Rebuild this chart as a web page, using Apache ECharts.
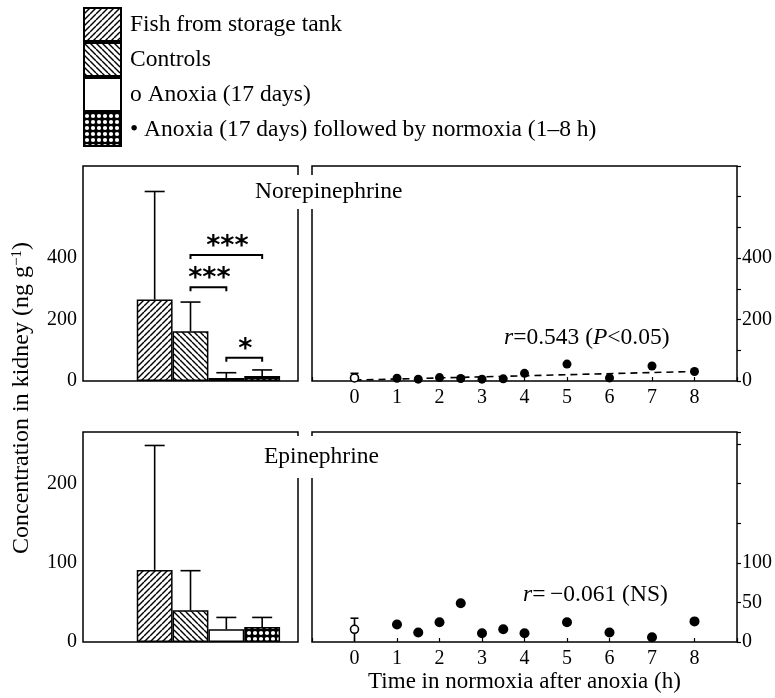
<!DOCTYPE html>
<html>
<head>
<meta charset="utf-8">
<script src="https://cdn.jsdelivr.net/npm/echarts@6/dist/echarts.min.js"></script>
<style>html,body{margin:0;padding:0;background:#fff}#c{width:775px;height:698px}</style>
</head>
<body>
<div id="c"></div>
<script>
// ---------- data ----------
const barCategories = ['Fish from storage tank', 'Controls', 'Anoxia (17 days)', 'Anoxia (17 days) followed by normoxia (1\u20138 h)'];
const legendPrefix = ['', '', 'o ', '\u2022 '];
const norBarMean = [265, 162, 10, 16];
const norBarUpper = [617, 257, 27, 36];
const epiBarMean = [91, 40, 16, 19];
const epiBarUpper = [248, 90, 31, 31];
const sigFrom = [1, 1, 2];
const sigTo = [3, 2, 3];
const sigY = [410, 305, 76];
const sigText = ['***', '***', '*'];
const timeH = [1, 1.5, 2, 2.5, 3, 3.5, 4, 5, 6, 7, 8];
const norTime = [9, 6, 11, 8, 6, 7, 25, 55, 10, 49, 31];
const epiTime = [22, 12, 25, 49, 11, 16, 11, 25, 12, 6, 26];
const norAnoxia = [0, 10, 0, 25];   // [time, mean, low, high]
const epiAnoxia = [0, 16, 1, 30];
const norFitX = [0, 8];
const norFitY = [3, 31];
const xTickLabels = ['0', '1', '2', '3', '4', '5', '6', '7', '8'];
const norYLabels = [0, 200, 400];
const epiLeftLabels = [0, 100, 200];
const epiRightLabels = [0, 50, 100];

// ---------- styles ----------
const FONT = 'Liberation Serif';
const FS = 20;      // tick labels
const TS = 23.5;    // other text
function hatch(dir) {
  const s = 6, c = document.createElement('canvas');
  c.width = s; c.height = s;
  const g = c.getContext('2d');
  g.fillStyle = '#fff'; g.fillRect(0, 0, s, s);
  g.strokeStyle = '#000'; g.lineWidth = 1.4;
  for (let k = -1; k <= 1; k++) {
    g.beginPath();
    if (dir > 0) { g.moveTo(k * s, s); g.lineTo(k * s + s, 0); }
    else { g.moveTo(k * s, 0); g.lineTo(k * s + s, s); }
    g.stroke();
  }
  return { image: c, repeat: 'repeat' };
}
function dots() {
  const s = 6, c = document.createElement('canvas');
  c.width = s; c.height = s;
  const g = c.getContext('2d');
  g.fillStyle = '#000'; g.fillRect(0, 0, s, s);
  g.fillStyle = '#fff'; g.beginPath(); g.arc(3, 3, 2.1, 0, Math.PI * 2); g.fill();
  return { image: c, repeat: 'repeat' };
}
const fills = [hatch(1), hatch(-1), '#fff', dots()];

const cats = ['', ''].concat(barCategories).concat(['']);
function barSeries(means, xi, yi, stack) {
  return means.map((v, i) => {
    const d = cats.map(() => null);
    d[i + 2] = v;
    return {
      type: 'bar', name: barCategories[i], stack: stack, xAxisIndex: xi, yAxisIndex: yi,
      data: d, barCategoryGap: '0%', silent: true,
      itemStyle: { color: fills[i], borderColor: '#000', borderWidth: 1.5, opacity: 1 }
    };
  });
}
function errRender(cap) {
  return function (params, api) {
    const x = api.value(0), lo = api.value(1), hi = api.value(2);
    const p1 = api.coord([x, lo]), p2 = api.coord([x, hi]);
    const st = { stroke: '#000', lineWidth: 1.6 };
    return { type: 'group', children: [
      { type: 'line', shape: { x1: p1[0], y1: p1[1], x2: p2[0], y2: p2[1] }, style: st },
      { type: 'line', shape: { x1: p2[0] - cap / 2, y1: p2[1], x2: p2[0] + cap / 2, y2: p2[1] }, style: st }
    ] };
  };
}
function errSeries(means, uppers, xi, yi) {
  return {
    type: 'custom', xAxisIndex: xi, yAxisIndex: yi, z: 5, silent: true,
    renderItem: errRender(20),
    data: means.map((m, i) => [i + 2, m, uppers[i]])
  };
}
function labelFilter(list) {
  return function (v) { return list.indexOf(v) >= 0 ? String(v) : ''; };
}
const axisText = { fontFamily: FONT, fontSize: FS, color: '#000' };
const tickStyle = { color: '#000', width: 1.2 };
const xTickFmt = function (v) { return xTickLabels.indexOf(String(v)) >= 0 ? String(v) : ''; };

const option = {
  animation: false,
  backgroundColor: '#fff',
  textStyle: { fontFamily: FONT, color: '#000' },
  legend: {
    orient: 'vertical', left: 78, top: 2, itemWidth: 37, itemHeight: 33, itemGap: 0,
    icon: 'rect', selectedMode: false,
    data: barCategories,
    formatter: function (n) { return legendPrefix[barCategories.indexOf(n)] + n; },
    textStyle: { fontFamily: FONT, fontSize: TS, color: '#000', padding: [0, 0, 0, 4] }
  },
  grid: [
    { left: 83, top: 166, width: 215, height: 215, show: true, borderColor: '#000', borderWidth: 1.5, backgroundColor: 'transparent' },
    { left: 312, top: 166, width: 426, height: 215, show: true, borderColor: '#000', borderWidth: 1.5, backgroundColor: 'transparent' },
    { left: 83, top: 432, width: 215, height: 210, show: true, borderColor: '#000', borderWidth: 1.5, backgroundColor: 'transparent' },
    { left: 312, top: 432, width: 426, height: 210, show: true, borderColor: '#000', borderWidth: 1.5, backgroundColor: 'transparent' }
  ],
  xAxis: [
    { gridIndex: 0, type: 'category', data: cats, boundaryGap: false, axisLine: { show: false, onZero: false }, axisTick: { show: false }, axisLabel: { show: false } },
    { gridIndex: 1, type: 'value', min: -1, max: 9, interval: 1, splitLine: { show: false }, axisLine: { show: false, onZero: false },
      axisTick: { inside: true, length: 4, lineStyle: tickStyle },
      axisLabel: Object.assign({ margin: 7, formatter: xTickFmt }, axisText) },
    { gridIndex: 2, type: 'category', data: cats, boundaryGap: false, axisLine: { show: false, onZero: false }, axisTick: { show: false }, axisLabel: { show: false } },
    { gridIndex: 3, type: 'value', min: -1, max: 9, interval: 1, splitLine: { show: false }, axisLine: { show: false, onZero: false },
      axisTick: { inside: true, length: 4, lineStyle: tickStyle },
      axisLabel: Object.assign({ margin: 7, formatter: xTickFmt }, axisText),
      name: 'Time in normoxia after anoxia (h)', nameLocation: 'middle', nameGap: 28,
      nameTextStyle: { fontFamily: FONT, fontSize: 23, color: '#000' } }
  ],
  yAxis: [
    { gridIndex: 0, type: 'value', position: 'left', min: 0, max: 700, interval: 100, splitLine: { show: false },
      axisLine: { show: false, onZero: false }, axisTick: { length: 4, lineStyle: tickStyle },
      axisLabel: Object.assign({ margin: 6, formatter: labelFilter(norYLabels) }, axisText) },
    { gridIndex: 1, type: 'value', position: 'right', min: 0, max: 700, interval: 100, splitLine: { show: false },
      axisLine: { show: false, onZero: false }, axisTick: { length: 4, lineStyle: tickStyle },
      axisLabel: Object.assign({ margin: 5, formatter: labelFilter(norYLabels) }, axisText) },
    { gridIndex: 2, type: 'value', position: 'left', min: 0, max: 265, interval: 50, splitLine: { show: false },
      axisLine: { show: false, onZero: false }, axisTick: { length: 4, lineStyle: tickStyle },
      axisLabel: Object.assign({ margin: 6, formatter: labelFilter(epiLeftLabels) }, axisText) },
    { gridIndex: 3, type: 'value', position: 'right', min: 0, max: 265, interval: 50, splitLine: { show: false },
      axisLine: { show: false, onZero: false }, axisTick: { length: 4, lineStyle: tickStyle },
      axisLabel: Object.assign({ margin: 5, formatter: labelFilter(epiRightLabels) }, axisText) }
  ],
  series: [].concat(
    barSeries(norBarMean, 0, 0, 'nor'),
    barSeries(epiBarMean, 2, 2, 'epi'),
    [
      errSeries(norBarMean, norBarUpper, 0, 0),
      errSeries(epiBarMean, epiBarUpper, 2, 2),
      {
        type: 'custom', xAxisIndex: 0, yAxisIndex: 0, z: 6, silent: true,
        data: sigFrom.map((f, i) => [f + 2, sigTo[i] + 2, sigY[i]]),
        renderItem: function (params, api) {
          const p1 = api.coord([api.value(0), api.value(2)]);
          const p2 = api.coord([api.value(1), api.value(2)]);
          return {
            type: 'group', children: [
              { type: 'polyline', shape: { points: [[p1[0], p1[1] + 4], [p1[0], p1[1]], [p2[0], p2[1]], [p2[0], p2[1] + 4]] },
                style: { stroke: '#000', lineWidth: 2, fill: null } },
              { type: 'text', x: (p1[0] + p2[0]) / 2 + 1, y: p1[1] - 8,
                style: { text: sigText[params.dataIndex], font: 'bold 27px "DejaVu Sans"', fill: '#000', align: 'center', verticalAlign: 'middle' } }
            ]
          };
        }
      },
      {
        type: 'line', xAxisIndex: 1, yAxisIndex: 1, silent: true, symbol: 'none',
        data: norFitX.map((x, i) => [x, norFitY[i]]),
        lineStyle: { color: '#000', width: 1.6, type: [7, 5] }, z: 3
      },
      {
        type: 'scatter', xAxisIndex: 1, yAxisIndex: 1, silent: true, symbol: 'circle', symbolSize: 9,
        itemStyle: { color: '#000', opacity: 1 }, data: timeH.map((t, i) => [t, norTime[i]]), z: 4
      },
      {
        type: 'custom', xAxisIndex: 1, yAxisIndex: 1, silent: true, z: 4, renderItem: errRender(8),
        data: [[norAnoxia[0], norAnoxia[2], norAnoxia[3]]]
      },
      {
        type: 'scatter', xAxisIndex: 1, yAxisIndex: 1, silent: true, symbol: 'circle', symbolSize: 8,
        itemStyle: { color: '#fff', borderColor: '#000', borderWidth: 1.6, opacity: 1 }, data: [[norAnoxia[0], norAnoxia[1]]], z: 5
      },
      {
        type: 'scatter', xAxisIndex: 3, yAxisIndex: 3, silent: true, symbol: 'circle', symbolSize: 10,
        itemStyle: { color: '#000', opacity: 1 }, data: timeH.map((t, i) => [t, epiTime[i]]), z: 4
      },
      {
        type: 'custom', xAxisIndex: 3, yAxisIndex: 3, silent: true, z: 4, renderItem: errRender(8),
        data: [[epiAnoxia[0], epiAnoxia[2], epiAnoxia[3]]]
      },
      {
        type: 'scatter', xAxisIndex: 3, yAxisIndex: 3, silent: true, symbol: 'circle', symbolSize: 8,
        itemStyle: { color: '#fff', borderColor: '#000', borderWidth: 1.6, opacity: 1 }, data: [[epiAnoxia[0], epiAnoxia[1]]], z: 5
      }
    ]
  ),
  graphic: [
    { type: 'text', x: 253, y: 192, z: 100, silent: true,
      style: { text: 'Norepinephrine', font: TS + 'px "' + FONT + '"', fill: '#000', align: 'left', verticalAlign: 'middle',
        backgroundColor: '#fff', padding: [5, 2, 5, 2] } },
    { type: 'text', x: 262, y: 457, z: 100, silent: true,
      style: { text: 'Epinephrine', font: TS + 'px "' + FONT + '"', fill: '#000', align: 'left', verticalAlign: 'middle',
        backgroundColor: '#fff', padding: [9, 2, 9, 2] } },
    { type: 'text', x: 504, y: 338, z: 100, silent: true,
      style: { text: '{i|r}=0.543 ({i|P}<0.05)', font: TS + 'px "' + FONT + '"', fill: '#000', align: 'left', verticalAlign: 'middle',
        rich: { i: { fontStyle: 'italic', fontFamily: FONT, fontSize: TS } } } },
    { type: 'text', x: 523, y: 595, z: 100, silent: true,
      style: { text: '{i|r}=\u2009\u22120.061 (NS)', font: TS + 'px "' + FONT + '"', fill: '#000', align: 'left', verticalAlign: 'middle',
        rich: { i: { fontStyle: 'italic', fontFamily: FONT, fontSize: TS } } } },
    { type: 'text', x: 22, y: 398, rotation: Math.PI / 2, z: 100, silent: true,
      style: { text: 'Concentration in kidney (ng g{s|\u22121})', font: '24px "' + FONT + '"', fill: '#000',
        align: 'center', verticalAlign: 'middle',
        rich: { s: { fontSize: 15, fontFamily: FONT, padding: [0, 0, 10, 0] } } } }
  ]
};
const chart = echarts.init(document.getElementById('c'), null, { renderer: 'canvas' });
chart.setOption(option);
</script>
</body>
</html>
